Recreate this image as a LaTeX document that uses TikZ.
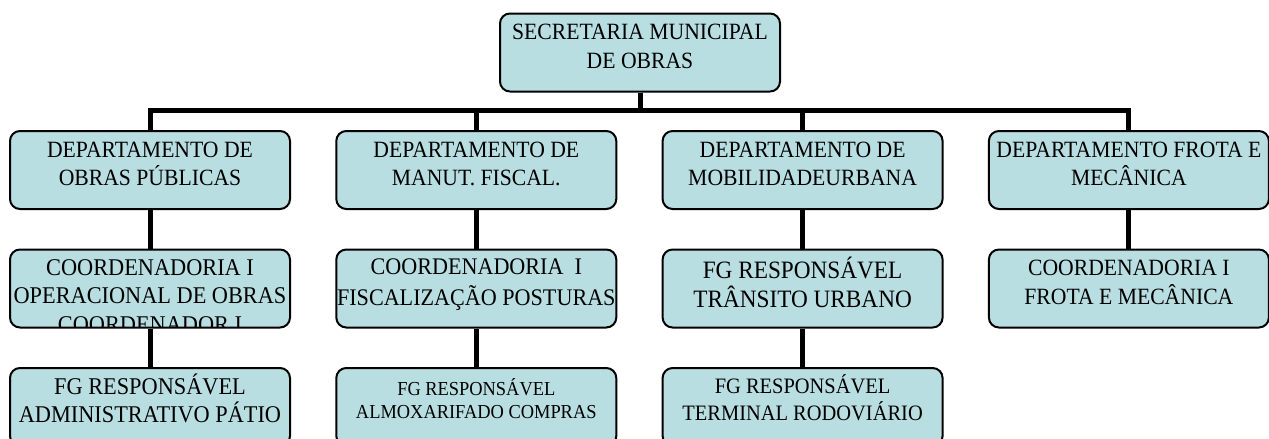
\documentclass[tikz,border=0pt]{standalone}
\usepackage{fontspec}
\setmainfont[FakeStretch=0.93]{Liberation Serif}
\usetikzlibrary{positioning}
\definecolor{boxfill}{RGB}{184,222,226}
\tikzset{
  unit/.style={draw, line width=2pt, rounded corners=10pt, fill=boxfill,
    minimum width=280pt, minimum height=78pt, inner sep=0pt, align=center,
    font=\fontsize{23.3}{28.5}\selectfont,
    execute at end node={\rule[-12pt]{0pt}{12pt}}},
  big/.style={font=\fontsize{25}{29}\selectfont},
  long/.style={font=\fontsize{23.8}{31}\selectfont},
  wide/.style={font=\fontsize{24}{28}\selectfont},
  mid/.style={font=\fontsize{22}{27}\selectfont},
  small/.style={font=\fontsize{19.8}{23}\selectfont},
  low/.style={execute at end node={\rule[-18pt]{0pt}{18pt}}},
  link/.style={line width=5pt}
}

\begin{document}
\begin{tikzpicture}[x=1pt,y=1pt,on grid,node distance=118.5pt and 326.3pt]
  \useasboundingbox (0,0) rectangle (1269,-439);
  \clip (0,0) rectangle (1269,-439);
  \node[unit]           (sec) at (640,-52.5) {SECRETARIA MUNICIPAL\\DE OBRAS};
  \node[unit]           (d1)  at (150,-170)  {DEPARTAMENTO DE\\OBRAS PÚBLICAS};
  \node[unit]           (d2) [right=of d1]   {DEPARTAMENTO DE\\MANUT. FISCAL.};
  \node[unit]           (d3) [right=of d2]   {DEPARTAMENTO DE\\MOBILIDADEURBANA};
  \node[unit]           (d4) [right=of d3]   {DEPARTAMENTO FROTA E\\MECÂNICA};
  \node[unit, path picture={
      \node[align=center, font=\fontsize{24}{28.5}\selectfont]
        at ([yshift=-13.5pt]path picture bounding box.center)
        {COORDENADORIA I\\OPERACIONAL DE OBRAS\\COORDENADOR I};}]
                        (c1) [below=of d1]   {};
  \node[unit,long]      (c2) [below=of d2]   {COORDENADORIA~~I\\FISCALIZAÇÃO POSTURAS};
  \node[unit,big]       (c3) [below=of d3]   {FG RESPONSÁVEL\\TRÂNSITO URBANO};
  \node[unit]           (c4) [below=of d4]   {COORDENADORIA I\\FROTA E MECÂNICA};
  \node[unit,wide,low]  (f1) [below=of c1]   {FG RESPONSÁVEL\\ADMINISTRATIVO PÁTIO};
  \node[unit,small,low] (f2) [below=of c2]   {FG RESPONSÁVEL\\ALMOXARIFADO COMPRAS};
  \node[unit,mid,low]   (f3) [below=of c3]   {FG RESPONSÁVEL\\TERMINAL RODOVIÁRIO};
  % barra principal
  \coordinate (bus) at ([yshift=-18pt]sec.south);
  \draw[link] (sec.south) -- (bus);
  \draw[link] (d1.north) |- (bus) -| (d4.north);
  \draw[link] (d2.north) -- (d2.north |- bus);
  \draw[link] (d3.north) -- (d3.north |- bus);
  \foreach \a/\b in {d1/c1,d2/c2,d3/c3,d4/c4,c1/f1,c2/f2,c3/f3}
    \draw[link] (\a) -- (\b);
\end{tikzpicture}
\end{document}
